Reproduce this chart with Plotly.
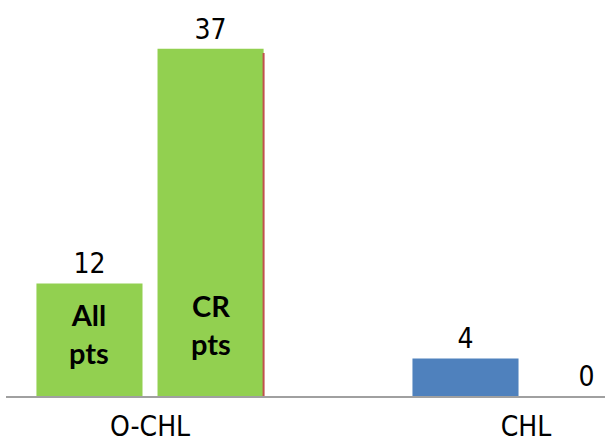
import plotly.graph_objects as go

# Groups along the x axis
categories = ["O-CHL", "CHL"]

# First and second bar of each group
first_values = [12, 4]
second_values = [37, 0]

# Words printed inside the O-CHL bars
first_inner = "All<br>pts"
second_inner = "CR<br>pts"

GREEN = "#92D050"
BLUE = "#4F81BD"
RED = "#C0504D"
group_colors = [GREEN, BLUE]

narrow = "'Liberation Sans Narrow', 'DejaVu Sans Condensed', 'Liberation Sans', sans-serif"
value_font = dict(family=narrow, size=28, color="black")
inner_font = dict(family="Lato", size=29, color="black")

fig = go.Figure()
for vals in (first_values, second_values):
    fig.add_trace(go.Bar(
        x=categories,
        y=vals,
        marker=dict(color=group_colors, line=dict(width=0)),
        text=[str(v) for v in vals],
        textposition="outside",
        textfont=value_font,
        cliponaxis=False,
        showlegend=False,
    ))

bargap = 0.356
bargroupgap = 0.124
slot = (1 - bargap) / 2
half_bar = slot * (1 - bargroupgap) / 2

# Thin red edge on the right side of the tall O-CHL bar
edge_x = 0 + slot / 2 + half_bar
fig.add_shape(type="line", xref="x", yref="y",
              x0=edge_x, x1=edge_x, y0=0, y1=second_values[0] - 0.45,
              line=dict(color=RED, width=2))

# Inner labels of the O-CHL bars
fig.add_annotation(x=0 - slot / 2, y=6.7, xref="x", yref="y",
                   text=f"<b>{first_inner}</b>", showarrow=False,
                   font=inner_font, yanchor="middle")
fig.add_annotation(x=0 + slot / 2, y=7.6, xref="x", yref="y",
                   text=f"<b>{second_inner}</b>", showarrow=False,
                   font=inner_font, yanchor="middle")

fig.update_layout(
    width=605, height=445,
    margin=dict(l=6, r=0, t=0, b=49),
    paper_bgcolor="white",
    plot_bgcolor="white",
    barmode="group",
    bargap=bargap,
    bargroupgap=bargroupgap,
    xaxis=dict(
        type="category",
        range=[-0.383, 1.210],
        automargin=False,
        showline=True, linecolor="#A0A0A0", linewidth=2,
        showgrid=False, ticks="",
        tickfont=dict(family=narrow, size=28, color="black"),
        ticklabelstandoff=4,
        zeroline=False,
    ),
    yaxis=dict(
        range=[0, 42.2],
        visible=False,
        automargin=False,
        showgrid=False,
        zeroline=False,
    ),
)

fig.write_html("out.html")
